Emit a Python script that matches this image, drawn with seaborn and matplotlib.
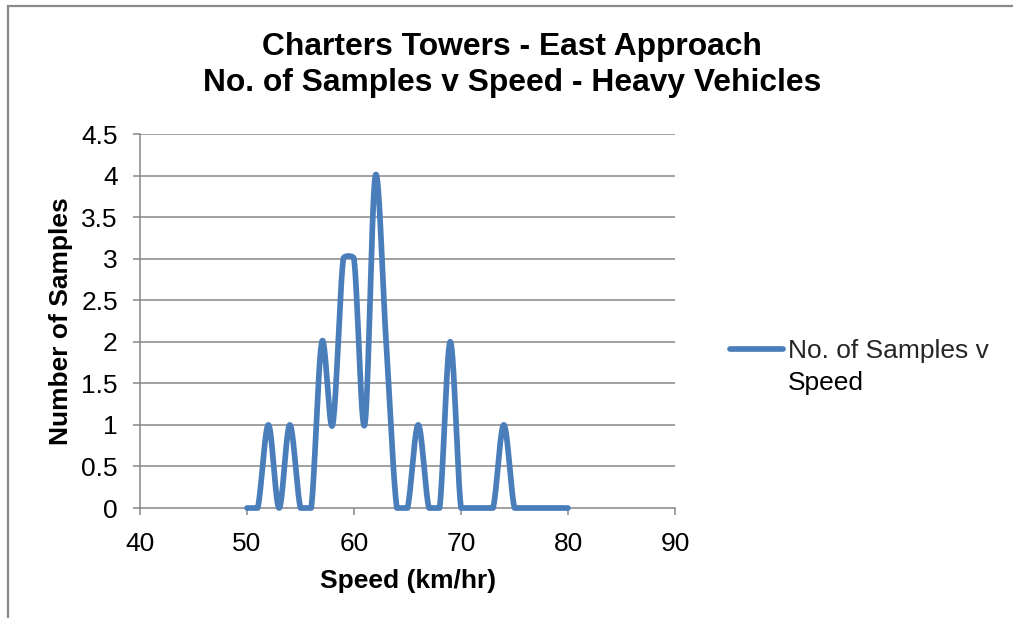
import numpy as np
import pandas as pd
import matplotlib
matplotlib.use("Agg")
import matplotlib.pyplot as plt
from matplotlib.patches import Rectangle
import seaborn as sns

# ---- data ----
speed = [50, 51, 52, 53, 54, 55, 56, 57, 58, 59, 60, 61, 62, 63, 64, 65,
         66, 67, 68, 69, 70, 71, 72, 73, 74, 75, 76, 77, 78, 79, 80]
samples = [0, 0, 1, 0, 1, 0, 0, 2, 1, 3, 3, 1, 4, 2, 0, 0,
           1, 0, 0, 2, 0, 0, 0, 0, 1, 0, 0, 0, 0, 0, 0]
series_name = "No. of Samples v Speed"
title_lines = ["Charters Towers - East Approach",
               "No. of Samples v Speed - Heavy Vehicles"]
x_label = "Speed (km/hr)"
y_label = "Number of Samples"
x_ticks = [40, 50, 60, 70, 80, 90]
y_ticks = [0, 0.5, 1, 1.5, 2, 2.5, 3, 3.5, 4, 4.5]

W, H = 1013, 618
sns.set_theme(style="white")
plt.rcParams["font.family"] = ["Liberation Sans", "DejaVu Sans"]

fig = plt.figure(figsize=(W / 100, H / 100), dpi=100)
fig.patch.set_facecolor("white")

# axes placement (pixels in the reference)
L, R, T, B = 140, 675, 134, 508
ax = fig.add_axes([L / W, 1 - B / H, (R - L) / W, (B - T) / H])


def excel_smooth(xs, ys, sx, sy, n=40, cap=1.0 / 3.0):
    """Smoothed (Excel-like Bezier) path through the data points, for display only."""
    P = np.column_stack([np.asarray(xs, float) * sx, np.asarray(ys, float) * sy])
    m = len(P)
    out = []
    for i in range(m - 1):
        p0, p1 = P[i], P[i + 1]
        seg = np.linalg.norm(p1 - p0)
        t0 = (P[i + 1] - P[i - 1]) / 6.0 if i > 0 else (P[i + 1] - P[i]) / 6.0
        t1 = (P[i + 2] - P[i]) / 6.0 if i + 2 < m else (P[i + 1] - P[i]) / 6.0
        for tv in (t0, t1):
            ln = np.linalg.norm(tv)
            if ln > seg * cap and ln > 0:
                tv *= seg * cap / ln
        c1 = p0 + t0
        c2 = p1 - t1
        t = np.linspace(0, 1, n, endpoint=(i == m - 2))[:, None]
        pts = ((1 - t) ** 3) * p0 + 3 * ((1 - t) ** 2) * t * c1 + 3 * (1 - t) * t ** 2 * c2 + t ** 3 * p1
        out.append(pts)
    out = np.vstack(out)
    return out[:, 0] / sx, out[:, 1] / sy


px_per_x = (R - L) / 50.0
px_per_y = (B - T) / 4.5
sx_, sy_ = excel_smooth(speed, samples, px_per_x, px_per_y)
sy_ = np.maximum(sy_, 0)  # Excel clips to the plot area
curve = pd.DataFrame({"Speed": sx_, "Samples": sy_})

blue = "#4A7EBB"
grid_c = "#868686"

sns.lineplot(data=curve, x="Speed", y="Samples", ax=ax, sort=False, estimator=None,
             color=blue, linewidth=4.1, solid_capstyle="round", solid_joinstyle="round",
             clip_on=False, zorder=5, label="No. of Samples v")

ax.set_xlim(40, 90)
ax.set_ylim(0, 4.5)
ax.set_xticks(x_ticks)
ax.set_yticks(y_ticks)
ax.set_xticklabels([f"{v:g}" for v in x_ticks])
ax.set_yticklabels([f"{v:g}" for v in y_ticks])

ax.grid(False)
for v in y_ticks[1:]:
    ax.axhline(v, color=grid_c, linewidth=1.1, zorder=1)

for s in ["top", "right"]:
    ax.spines[s].set_visible(False)
for s in ["left", "bottom"]:
    ax.spines[s].set_color(grid_c)
    ax.spines[s].set_linewidth(1.1)

ax.tick_params(axis="both", which="major", length=5, width=1.1, color=grid_c,
               labelsize=19, labelcolor="black", direction="out")
ax.tick_params(axis="y", pad=11)
ax.tick_params(axis="x", pad=12)
ax.yaxis.set_ticks_position("left")
ax.xaxis.set_ticks_position("bottom")

ax.set_xlabel(x_label, fontsize=19, fontweight="bold", color="black")
ax.set_ylabel(y_label, fontsize=19, fontweight="bold", color="black")
ax.xaxis.set_label_coords((408 - L) / (R - L), (B - 569) / (B - T))
ax.yaxis.set_label_coords((73 - L) / (R - L), (B - 321) / (B - T))

fig.text(512 / W, 1 - 47 / H, title_lines[0], ha="center", va="center",
         fontsize=22.9, fontweight="bold", color="black")
fig.text(512 / W, 1 - 83 / H, title_lines[1], ha="center", va="center",
         fontsize=22.9, fontweight="bold", color="black")

leg = ax.legend(loc="center left", bbox_to_anchor=(730 / W, 1 - 351 / H),
                bbox_transform=fig.transFigure, frameon=False, fontsize=19,
                handlelength=2.0, handletextpad=0.2, borderpad=0, borderaxespad=0)
fig.text(788 / W, 1 - 383 / H, "Speed", ha="left", va="center", fontsize=19, color="black")

# outer chart border
fig.patches.append(Rectangle((8 / W, -0.05), 1.2, 1 - 6 / H + 0.05, transform=fig.transFigure,
                             fill=False, edgecolor="#8a8a8a", linewidth=1.6, zorder=0))

fig.savefig("out.png", dpi=100, facecolor="white")
